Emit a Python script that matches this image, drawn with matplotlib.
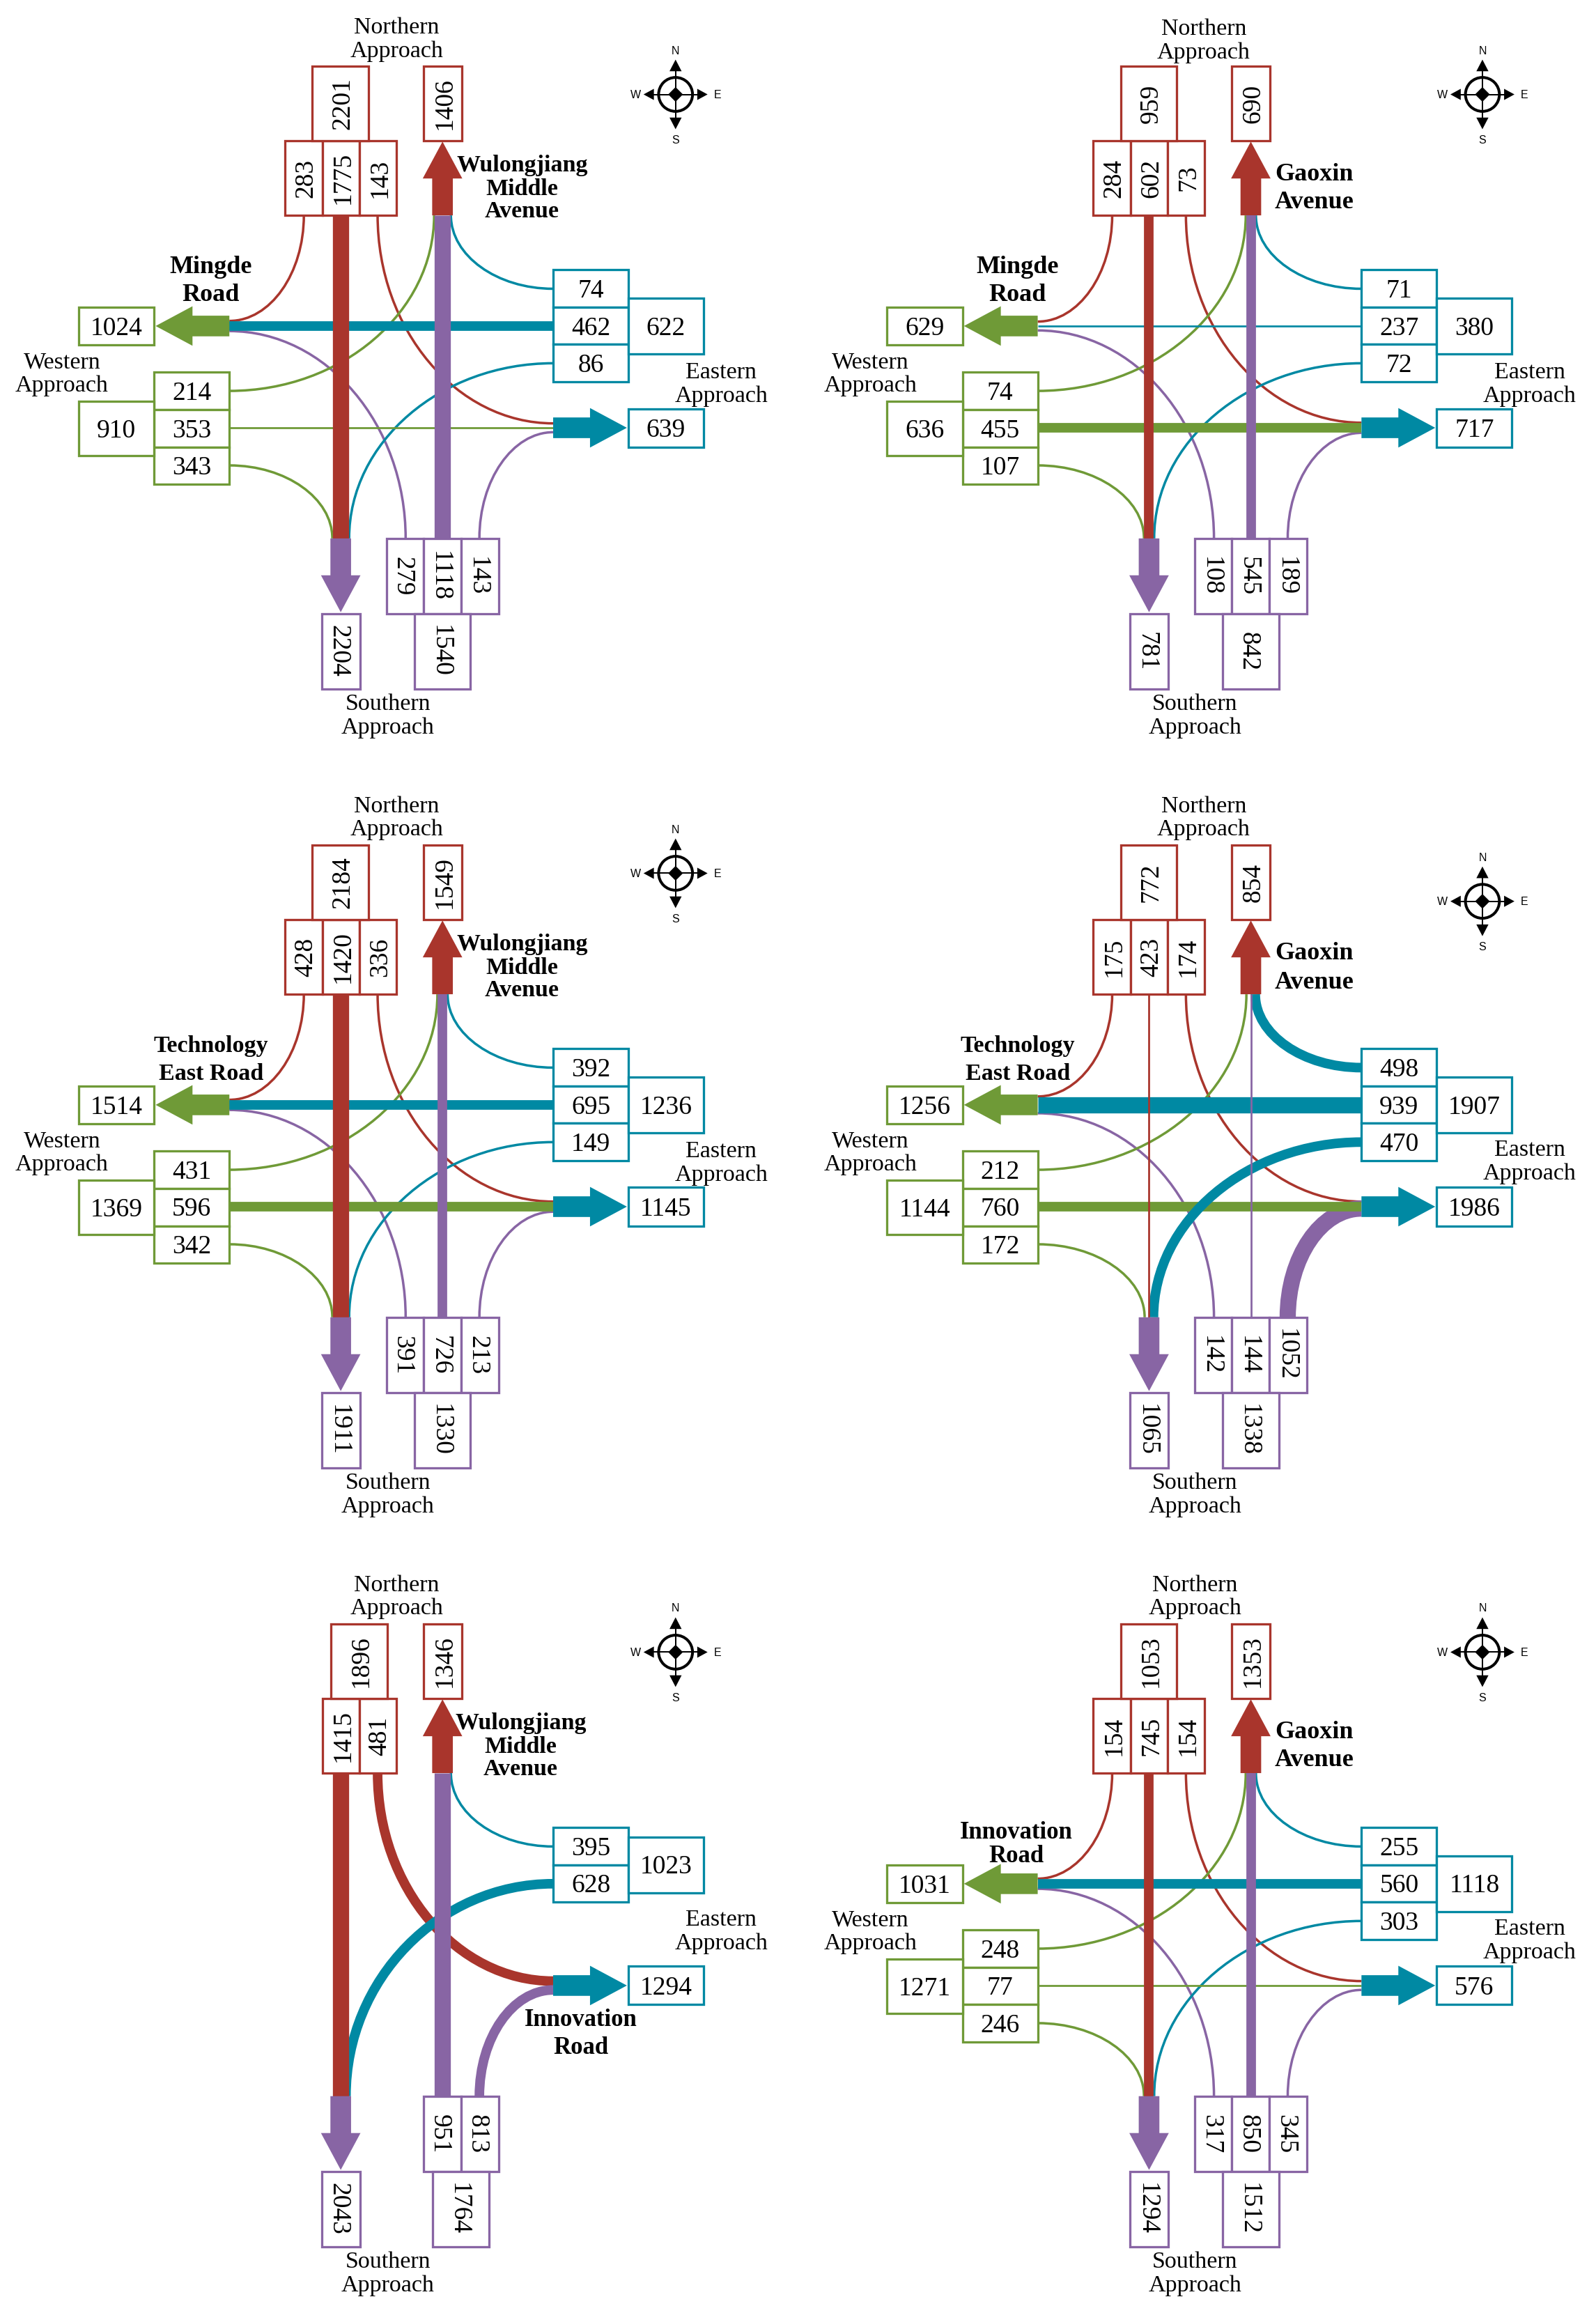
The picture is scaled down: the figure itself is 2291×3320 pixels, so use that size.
#! /usr/bin/env python3

import matplotlib
matplotlib.use('Agg')
import matplotlib.pyplot as plt
from matplotlib import patches
from matplotlib.path import Path

# flows per panel, turns are left to right / top to bottom as seen in the boxes
north_turns = [[283, 1775, 143], [284, 602, 73], [428, 1420, 336],
               [175, 423, 174], [None, 1415, 481], [154, 745, 154]]
north_total = [2201, 959, 2184, 772, 1896, 1053]
north_exit = [1406, 690, 1549, 854, 1346, 1353]

east_turns = [[74, 462, 86], [71, 237, 72], [392, 695, 149],
              [498, 939, 470], [395, None, 628], [255, 560, 303]]
east_total = [622, 380, 1236, 1907, 1023, 1118]
east_exit = [639, 717, 1145, 1986, 1294, 576]

south_turns = [[279, 1118, 143], [108, 545, 189], [391, 726, 213],
               [142, 144, 1052], [None, 951, 813], [317, 850, 345]]
south_total = [1540, 842, 1330, 1338, 1764, 1512]
south_exit = [2204, 781, 1911, 1065, 2043, 1294]

west_turns = [[214, 353, 343], [74, 455, 107], [431, 596, 342],
              [212, 760, 172], [None, None, None], [248, 77, 246]]
west_total = [910, 636, 1369, 1144, None, 1271]
west_exit = [1024, 629, 1514, 1256, None, 1031]

RED = '#a9352c'
TEAL = '#0089a3'
GREEN = '#6f9a37'
PURPLE = '#8865a4'

W, H = 2291, 3320
SX = W / 1082.0
PT = SX * 0.72      # one layout unit in points at dpi 100
SERIF = 'Liberation Serif'
TEXT_DY = 1.6       # mpl centres on the line box, the digits sit above that

# text layout, in layout units on the whole figure
road_labels = [
    [(['Wulongjiang', 'Middle', 'Avenue'], 354, [111, 127, 142], 24.5),
     (['Mingde', 'Road'], 143, [180, 199], 26)],
    [(['Gaoxin', 'Avenue'], 891, [117, 136], 26),
     (['Mingde', 'Road'], 690, [180, 199], 26)],
    [(['Wulongjiang', 'Middle', 'Avenue'], 354, [639, 655, 670], 24.5),
     (['Technology', 'East Road'], 143, [708, 727], 24.5)],
    [(['Gaoxin', 'Avenue'], 891, [645, 665], 26),
     (['Technology', 'East Road'], 690, [708, 727], 24.5)],
    [(['Wulongjiang', 'Middle', 'Avenue'], 353, [1167, 1183, 1198], 24.5),
     (['Innovation', 'Road'], 394, [1368, 1387], 25)],
    [(['Gaoxin', 'Avenue'], 891, [1173, 1192], 26),
     (['Innovation', 'Road'], 689, [1241, 1257], 25)],
]
north_label = [(269, 25), (816, 26), (269, 553), (816, 553), (269, 1081), (810, 1081)]
west_label = [(42, 252), (590, 252), (42, 780), (590, 780), None, (590, 1308)]
east_label = [(489, 259), (1037, 259), (489, 787), (1037, 786), (489, 1308), (1037, 1314)]
south_label = [(263, 484), (810, 484), (263, 1012), (810, 1012), (263, 1540), (810, 1540)]
compass_at = [(458, 64), (1005, 64), (458, 592), (1005, 611), (458, 1120), (1005, 1120)]


def width(v):
    if v >= 900: return 11.0
    if v >= 450: return 6.5
    return 1.3


def box(ax, x0, y0, x1, y1, color, txt, rot=0):
    ax.add_patch(patches.Rectangle((x0, y0), x1 - x0, y1 - y0, fc='white', ec=color,
                                   lw=1.55 * PT, zorder=6))
    dx, dy = {0: (0, TEXT_DY), 90: (TEXT_DY, 0), 270: (-TEXT_DY, 0)}[rot]
    ax.text((x0 + x1) / 2.0 + dx, (y0 + y1) / 2.0 + dy, str(txt), rotation=rot, ha='center',
            va='center', family=SERIF, fontsize=27, color='black', zorder=7)


def line(ax, x0, y0, x1, y1, color, v, z=3):
    ax.plot([x0, x1], [y0, y1], color=color, lw=width(v) * PT, solid_capstyle='butt', zorder=z)


def curve(ax, x0, y0, x1, y1, color, v, vertical_first, z=2):
    k = 0.55
    if vertical_first:
        c0 = (x0, y0 + k * (y1 - y0))
        c1 = (x1 - k * (x1 - x0), y1)
    else:
        c0 = (x0 + k * (x1 - x0), y0)
        c1 = (x1, y1 - k * (y1 - y0))
    path = Path([(x0, y0), c0, c1, (x1, y1)], [Path.MOVETO, Path.CURVE4, Path.CURVE4, Path.CURVE4])
    ax.add_patch(patches.PathPatch(path, fc='none', ec=color, lw=max(width(v), 1.65) * PT,
                                   capstyle='butt', zorder=z))


def arrow(ax, bx, by, dx, dy, color):
    # base point, unit direction; shaft half width 7, head half width 13.4, length 50
    nx, ny = -dy, dx
    pts = [(bx + nx * 7, by + ny * 7),
           (bx + dx * 25 + nx * 7, by + dy * 25 + ny * 7),
           (bx + dx * 25 + nx * 13.4, by + dy * 25 + ny * 13.4),
           (bx + dx * 50, by + dy * 50),
           (bx + dx * 25 - nx * 13.4, by + dy * 25 - ny * 13.4),
           (bx + dx * 25 - nx * 7, by + dy * 25 - ny * 7),
           (bx - nx * 7, by - ny * 7)]
    ax.add_patch(patches.Polygon(pts, closed=True, fc=color, ec='none', zorder=5))


def off(v, through):
    # turns land just outside the through line, but stay inside the arrow shaft
    half = width(through) / 2.0 if through else 0
    return min(max(half + 0.2, 3.0), 6.8 - width(v) / 2.0)


def compass(ax, cx, cy):
    ax.add_patch(patches.Circle((cx, cy), 11.5, fc='white', ec='black', lw=1.9 * PT, zorder=3))
    ax.plot([cx - 16, cx + 16], [cy, cy], color='black', lw=0.95 * PT, zorder=4)
    ax.plot([cx, cx], [cy - 17, cy + 17], color='black', lw=0.95 * PT, zorder=4)
    ax.add_patch(patches.Polygon([(cx - 5, cy), (cx, cy - 5), (cx + 5, cy), (cx, cy + 5)],
                                 fc='black', ec='none', zorder=5))
    for dx, dy, tip, base, half in [(0, -1, 23.6, 15.7, 4.1), (0, 1, 23.6, 15.7, 4.1),
                                    (-1, 0, 21.7, 14.7, 3.8), (1, 0, 21.7, 14.7, 3.8)]:
        nx, ny = -dy, dx
        ax.add_patch(patches.Polygon([(cx + dx * tip, cy + dy * tip),
                                      (cx + dx * base + nx * half, cy + dy * base + ny * half),
                                      (cx + dx * base - nx * half, cy + dy * base - ny * half)],
                                     fc='black', ec='none', zorder=5))
    for s, dx, dy in [('N', 0, -30), ('S', 0, 30.7), ('W', -27, 0), ('E', 28.3, 0)]:
        ax.text(cx + dx, cy + dy + 0.5, s, ha='center', va='center', family='Liberation Sans',
                fontsize=11.5, color='black')


def approach(ax, word, pos):
    if pos is None: return
    for i, s in enumerate([word, 'Approach']):
        ax.text(pos[0], pos[1] + (i - 0.5) * 16 + TEXT_DY, s, ha='center', va='center',
                family=SERIF, fontsize=24.5, color='black')


def panel(ax, i):
    ox, oy = 548 * (i % 2), 528 * (i // 2)
    n = north_turns[i]
    t = south_turns[i]
    e = east_turns[i]
    w = west_turns[i]

    # north approach
    slots = [(193, 218.5, 206), (218.5, 243.5, 231), (243.5, 268.5, 256)]
    used = [s for s, v in zip(slots, n) if v is not None]
    for s, v in zip(slots, n):
        if v is not None:
            box(ax, ox + s[0], oy + 95.5, ox + s[1], oy + 146, RED, v, 90)
    mid = (used[0][0] + used[-1][1]) / 2.0
    box(ax, ox + mid - 19, oy + 45, ox + mid + 19, oy + 95.5, RED, north_total[i], 90)
    box(ax, ox + 287, oy + 45, ox + 313, oy + 95.5, RED, north_exit[i], 90)
    if n[0] is not None:
        curve(ax, ox + 206, oy + 146, ox + 155.5, oy + 221 - off(n[0], e[1]), RED, n[0], True)
    line(ax, ox + 231, oy + 146, ox + 231, oy + 365, RED, n[1], 5)
    curve(ax, ox + 256, oy + 146, ox + 375, oy + 290 - off(n[2], w[1]), RED, n[2], True)
    arrow(ax, ox + 300, oy + 146, 0, -1, RED)

    # south approach
    slots = [(262, 287, 275), (287, 312.5, 300), (312.5, 338, 325)]
    used = [s for s, v in zip(slots, t) if v is not None]
    for s, v in zip(slots, t):
        if v is not None:
            box(ax, ox + s[0], oy + 365, ox + s[1], oy + 416, PURPLE, v, 270)
    mid = (used[0][0] + used[-1][1]) / 2.0
    box(ax, ox + mid - 19, oy + 416, ox + mid + 19, oy + 467, PURPLE, south_total[i], 270)
    box(ax, ox + 218, oy + 416, ox + 244, oy + 467, PURPLE, south_exit[i], 270)
    if t[0] is not None:
        curve(ax, ox + 275, oy + 365, ox + 155.5, oy + 221 + off(t[0], e[1]), PURPLE, t[0], True)
    line(ax, ox + 300, oy + 365, ox + 300, oy + 146, PURPLE, t[1], 5)
    curve(ax, ox + 325, oy + 365, ox + 375, oy + 290 + off(t[2], w[1]), PURPLE, t[2], True)
    arrow(ax, ox + 231, oy + 365, 0, 1, PURPLE)

    # east approach, boxes stack from the top when a movement is missing
    rows = [183, 208.5, 233.5, 259]
    stacked = [v for v in e if v is not None]
    for k, v in enumerate(stacked):
        box(ax, ox + 375, oy + rows[k], ox + 426, oy + rows[k + 1], TEAL, v)
    mid = (rows[0] + rows[len(stacked)]) / 2.0
    box(ax, ox + 426, oy + mid - 19, ox + 477, oy + mid + 19, TEAL, east_total[i])
    box(ax, ox + 426, oy + 277, ox + 477, oy + 303, TEAL, east_exit[i])
    centre = {}
    for k, v in enumerate(stacked):
        centre[v] = (rows[k] + rows[k + 1]) / 2.0
    curve(ax, ox + 375, oy + centre[e[0]], ox + 300 + off(e[0], t[1]), oy + 146, TEAL, e[0], False,
          4 if e[0] >= 450 else 2)
    if e[1] is not None:
        line(ax, ox + 375, oy + 221, ox + 155.5, oy + 221, TEAL, e[1], 3)
    curve(ax, ox + 375, oy + centre[e[2]], ox + 231 + off(e[2], n[1]), oy + 365, TEAL, e[2], False,
          4 if e[2] >= 450 else 2)
    arrow(ax, ox + 375, oy + 290, 1, 0, TEAL)

    # west approach
    if w[0] is not None:
        rows = [252.3, 277.8, 303, 328.3]
        for k, v in enumerate(w):
            box(ax, ox + 104.5, oy + rows[k], ox + 155.5, oy + rows[k + 1], GREEN, v)
        box(ax, ox + 53.3, oy + 272, ox + 104.5, oy + 309, GREEN, west_total[i])
        box(ax, ox + 53.3, oy + 208.5, ox + 104.5, oy + 234, GREEN, west_exit[i])
        curve(ax, ox + 155.5, oy + 265, ox + 300 - off(w[0], t[1]), oy + 146, GREEN, w[0], False)
        line(ax, ox + 155.5, oy + 290, ox + 375, oy + 290, GREEN, w[1], 3)
        curve(ax, ox + 155.5, oy + 315.5, ox + 231 - off(w[2], n[1]), oy + 365, GREEN, w[2], False)
        arrow(ax, ox + 155.5, oy + 221, -1, 0, GREEN)

    for lines, x, ys, size in road_labels[i]:
        for s, y in zip(lines, ys):
            ax.text(x, y + TEXT_DY - 0.4, s, ha='center', va='center', family=SERIF,
                    fontweight='bold', fontsize=size, color='black', zorder=8)

    approach(ax, 'Northern', north_label[i])
    approach(ax, 'Western', west_label[i])
    approach(ax, 'Eastern', east_label[i])
    approach(ax, 'Southern', south_label[i])
    compass(ax, *compass_at[i])


def main():
    fig = plt.figure(figsize=(W / 100.0, H / 100.0), dpi=100)
    ax = fig.add_axes([0, 0, 1, 1])
    ax.set_xlim(0, 1082)
    ax.set_ylim(1568, 0)
    ax.axis('off')
    for i in range(6):
        panel(ax, i)
    fig.savefig('out.png', dpi=100, facecolor='white')


if __name__ == '__main__':
    main()
